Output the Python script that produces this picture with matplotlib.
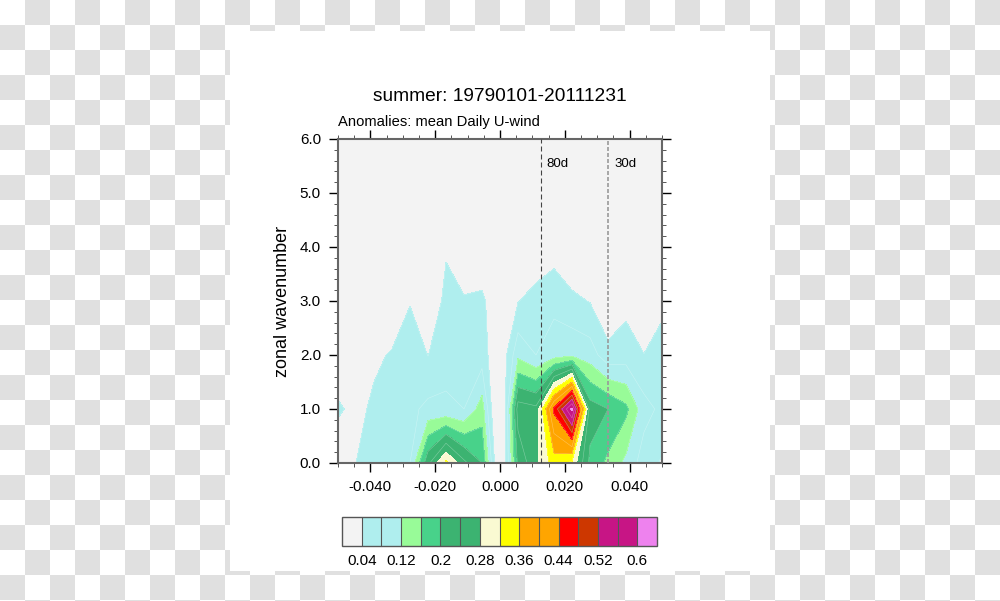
import numpy as np
import matplotlib.pyplot as plt
from matplotlib.colors import ListedColormap
from matplotlib.patches import Rectangle

plt.rcParams['font.family'] = ['Liberation Sans', 'DejaVu Sans']

# frequencia (ciclos/dia) -> k/180, k = -9..9 ; numero de onda zonal 0..6
freq = np.arange(-9, 10) / 180.0
wavenum = [0, 1, 2, 3, 4, 5, 6]

# espectro (uma lista por numero de onda)
wn0 = [0.00, 0.04, 0.07, 0.08, 0.08, 0.23, 0.33, 0.25, 0.20, -0.03, 0.21, 0.27, 0.34, 0.31, 0.19, 0.15, 0.11, 0.06, 0.035]
wn1 = [0.048, 0.025, 0.05, 0.07, 0.07, 0.09, 0.085, 0.08, 0.14, -0.05, 0.26, 0.25, 0.45, 0.61, 0.22, 0.20, 0.17, 0.095, 0.07]
wn2 = [0.00, 0.02, 0.03, 0.045, 0.07, 0.039, 0.07, 0.065, 0.06, 0.00, 0.11, 0.08, 0.10, 0.11, 0.10, 0.055, 0.06, 0.041, 0.065]
wn3 = [0.00, 0.00, 0.00, 0.00, 0.037, 0.00, 0.053, 0.045, 0.05, 0.00, 0.038, 0.06, 0.07, 0.05, 0.038, 0.00, 0.028, 0.00, 0.025]
wn4 = [0.00, 0.00, 0.00, 0.00, 0.01, 0.00, 0.035, 0.00, 0.00, 0.00, 0.00, 0.00, 0.02, 0.00, 0.00, 0.00, 0.00, 0.00, 0.00]
wn5 = [0.00, 0.00, 0.00, 0.01, 0.00, 0.00, 0.01, 0.00, 0.00, 0.00, 0.00, 0.01, 0.00, 0.00, 0.00, 0.00, 0.00, 0.00, 0.00]
wn6 = [0.00, 0.00, 0.00, 0.00, 0.00, 0.00, 0.00, 0.00, 0.00, 0.00, 0.00, 0.00, 0.00, 0.00, 0.00, 0.00, 0.00, 0.00, 0.00]

niveis = [0.04, 0.08, 0.12, 0.16, 0.20, 0.24, 0.28, 0.32, 0.36, 0.40, 0.44, 0.48, 0.52, 0.56, 0.60]
cores = ['#f3f3f3', '#afeeee', '#afeeee', '#98fb98', '#48d28a', '#3cb371', '#3cb371', '#fafad2',
         '#ffff00', '#ffa500', '#ffa500', '#ff0000', '#cd3700', '#c71585', '#c71585', '#ee82ee']
rotulos_cb = ['0.04', '0.12', '0.2', '0.28', '0.36', '0.44', '0.52', '0.6']
periodos = [80, 30]

Z = np.array([wn0, wn1, wn2, wn3, wn4, wn5, wn6])

fig = plt.figure(figsize=(10, 6.01), dpi=100)

# fundo xadrez + pagina branca
bg = fig.add_axes([0, 0, 1, 1])
ii, jj = np.indices((25, 40))
bg.imshow((ii + jj) % 2, cmap=ListedColormap(['white', '#e0e0e0']), extent=(0, 1000, 625, 0),
          interpolation='nearest', aspect='auto')
bg.add_patch(Rectangle((230, 31), 540, 540, fc='white', ec='none'))
bg.set_xlim(0, 1000)
bg.set_ylim(601, 0)
bg.axis('off')

# --- painel principal ---
ax = fig.add_axes([0.338, 138 / 601, 0.324, 324 / 601])
cf = ax.contourf(freq, wavenum, Z, levels=niveis, colors=cores, extend='both')
ax.contour(freq, wavenum, Z, levels=niveis, colors='white', linewidths=0.4, alpha=0.35)

ax.set_xlim(-0.05, 0.05)
ax.set_ylim(0, 6)
ax.set_xticks([-0.04, -0.02, 0.0, 0.02, 0.04])
ax.set_xticklabels(['-0.040', '-0.020', '0.000', '0.020', '0.040'])
ax.set_xticks(np.linspace(-0.05, 0.05, 21), minor=True)
ax.set_yticks([0, 1, 2, 3, 4, 5, 6])
ax.set_yticklabels(['0.0', '1.0', '2.0', '3.0', '4.0', '5.0', '6.0'])
ax.set_yticks(np.linspace(0, 6, 31), minor=True)
ax.tick_params(which='both', direction='out', top=True, right=True)
ax.tick_params(which='major', length=6.8, width=1.0, color='black', labelsize=11, pad=5.5)
ax.tick_params(which='minor', length=3.2, width=0.7, color='#555555')
for s in ax.spines.values():
    s.set_color('#666666')
    s.set_linewidth(1.5)
ax.set_ylabel('zonal wavenumber', fontsize=13, labelpad=6)

# linhas de periodo
for p, cor, lw, dash in zip(periodos, ['#444444', '#999999'], [0.8, 1.2], [(4.5, 2.7), (2.4, 1.2)]):
    ax.axvline(1.0 / p, color=cor, lw=lw, ls=(0, dash), zorder=3)
    ax.annotate(f'{p}d', xy=(1.0 / p, 6), xytext=(4.3, -20), textcoords='offset points',
                ha='left', va='baseline', fontsize=9.5)

fig.text(0.5, 1 - 101 / 601, 'summer: 19790101-20111231', ha='center', va='baseline', fontsize=13.8)
fig.text(0.338, 1 - 126 / 601, 'Anomalies: mean Daily U-wind', ha='left', va='baseline', fontsize=10.6)

# --- barra de cores ---
cax = fig.add_axes([0.342, 55 / 601, 0.315, 29 / 601])
cb = fig.colorbar(cf, cax=cax, orientation='horizontal', extendrect=True, extendfrac=1 / 14,
                  drawedges=True, ticks=niveis[::2])
cb.set_ticklabels(rotulos_cb)
cb.ax.tick_params(length=0, labelsize=11, pad=6)
cb.outline.set_edgecolor('#555555')
cb.outline.set_linewidth(1.0)
cb.dividers.set_color('#555555')
cb.dividers.set_linewidth(0.8)

fig.savefig('out.png', dpi=100)
